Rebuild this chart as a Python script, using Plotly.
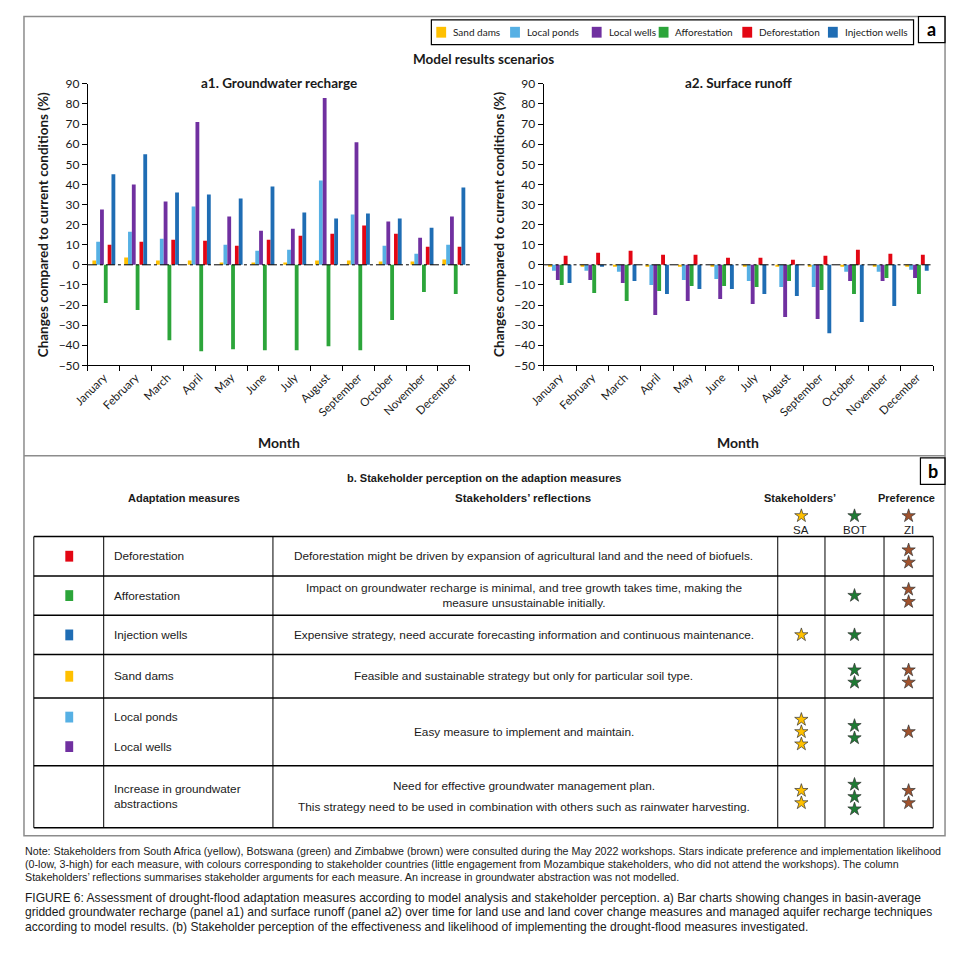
import plotly.graph_objects as go

# page is rendered with the default 8px body margin -> compensate
OFF = 8
W_FIG, H_FIG = 955 - 2 * OFF, 953 - 2 * OFF

# ---------------- data ----------------
months = ["January", "February", "March", "April", "May", "June", "July",
          "August", "September", "October", "November", "December"]
series_names = ["Sand dams", "Local ponds", "Local wells", "Afforestation",
                "Deforestation", "Injection wells"]
series_colors = ["#FFC000", "#56B0E4", "#7030A0", "#2CA53A", "#E30613", "#1F6DB4"]

# a1. Groundwater recharge (% change)
gw_sand_dams = [2.2, 3.6, 2.2, 2.2, 1.2, 1.2, 1.2, 2.2, 2.2, 1.6, 1.6, 2.6]
gw_local_ponds = [11.5, 16.5, 13, 29, 10, 7, 7.5, 42, 25, 9.5, 5.5, 10]
gw_local_wells = [27.5, 40, 31.5, 71, 24, 17, 18, 83, 61, 21.5, 13.5, 24]
gw_afforestation = [-19, -22.5, -37.5, -43, -42, -42.5, -42.5, -40.5, -42.5, -27.5, -13.5, -14.5]
gw_deforestation = [10, 11.5, 12.5, 12, 9.5, 12.5, 14.5, 15.5, 19.5, 15.5, 9, 9]
gw_injection_wells = [45, 55, 36, 35, 33, 39, 26, 23, 25.5, 23, 18.5, 38.5]

# a2. Surface runoff (% change)
sr_sand_dams = [-1, -1, -1, -1, -1, -1, -1, -1, -1, -1, -1, -1]
sr_local_ponds = [-3, -3, -3.5, -10, -7.5, -7, -8, -11, -11, -3.5, -3.5, -2.5]
sr_local_wells = [-7.5, -7.5, -9, -25, -18, -17, -19.5, -26, -27, -8, -8, -6.5]
sr_afforestation = [-10, -14, -18, -13, -10.5, -10.5, -11, -8, -12.5, -14.5, -6.5, -14.5]
sr_deforestation = [4.5, 6, 7, 5, 5, 3.5, 3.5, 2.5, 4.5, 7.5, 5.5, 5]
sr_injection_wells = [-9, -1, -8, -14.5, -12, -12, -14.5, -15.5, -34, -28.5, -20.5, -3]

# b. Stakeholder table
measure_labels = [["Deforestation"], ["Afforestation"], ["Injection wells"], ["Sand dams"],
                  ["Local ponds", "Local wells"], ["Increase in groundwater<br>abstractions"]]
measure_colors = [["#E30613"], ["#2CA53A"], ["#1F6DB4"], ["#FFC000"],
                  ["#56B0E4", "#7030A0"], [None]]
reflections = [
    ["Deforestation might be driven by expansion of agricultural land and the need of biofuels."],
    ["Impact on groundwater recharge is minimal, and tree growth takes time, making the<br>measure unsustainable initially."],
    ["Expensive strategy, need accurate forecasting information and continuous maintenance."],
    ["Feasible and sustainable strategy but only for particular soil type."],
    ["Easy measure to implement and maintain."],
    ["Need for effective groundwater management plan.",
     "This strategy need to be used in combination with others such as rainwater harvesting."],
]
stars_SA = [0, 0, 1, 0, 3, 2]
stars_BOT = [0, 1, 1, 2, 2, 3]
stars_ZI = [2, 2, 0, 2, 1, 2]
stakeholder_codes = ["SA", "BOT", "ZI"]
star_colors = ["#FFC000", "#1E7B34", "#A0522D"]

note_lines = [
    "Note: Stakeholders from South Africa (yellow), Botswana (green) and Zimbabwe (brown) were consulted during the May 2022 workshops. Stars indicate preference and implementation likelihood",
    "(0-low, 3-high) for each measure, with colours corresponding to stakeholder countries (little engagement from Mozambique stakeholders, who did not attend the workshops). The column",
    "Stakeholders\u2019 reflections summarises stakeholder arguments for each measure. An increase in groundwater abstraction was not modelled.",
]
caption_lines = [
    "FIGURE 6: Assessment of drought-flood adaptation measures according to model analysis and stakeholder perception. a) Bar charts showing changes in basin-average",
    "gridded groundwater recharge (panel a1) and surface runoff (panel a2) over time for land use and land cover change measures and managed aquifer recharge techniques",
    "according to model results. (b) Stakeholder perception of the effectiveness and likelihood of implementing the drought-flood measures investigated.",
]

# ---------------- helpers ----------------
def X(p):
    return (p - OFF) / W_FIG

def Y(p):
    return 1 - (p - OFF) / H_FIG

CHART_FONT = "Lato, 'Open Sans', sans-serif"
NARROW = "'Liberation Sans', Arial, sans-serif"
TXT = "#1a1a1a"

fig = go.Figure()

gw = [gw_sand_dams, gw_local_ponds, gw_local_wells, gw_afforestation, gw_deforestation, gw_injection_wells]
sr = [sr_sand_dams, sr_local_ponds, sr_local_wells, sr_afforestation, sr_deforestation, sr_injection_wells]
for name, col, v1, v2 in zip(series_names, series_colors, gw, sr):
    fig.add_trace(go.Bar(x=months, y=v1, name=name, marker_color=col, marker_line_width=0,
                         xaxis="x", yaxis="y", showlegend=False))
    fig.add_trace(go.Bar(x=months, y=v2, name=name, marker_color=col, marker_line_width=0,
                         xaxis="x2", yaxis="y2", showlegend=False))

# stars in the table (overlay axes in page pixels)
star_x = {"SA": 799, "BOT": 853, "ZI": 908}
row_lines = [537, 577, 617, 657, 701, 770, 833]
row_centers = [(a + b) / 2 for a, b in zip(row_lines[:-1], row_lines[1:])]
STEP = 12.5
for code, col, counts in zip(stakeholder_codes, star_colors, [stars_SA, stars_BOT, stars_ZI]):
    xs, ys = [star_x[code]], [516]
    for cy, n in zip(row_centers, counts):
        for k in range(n):
            xs.append(star_x[code])
            ys.append(cy + (k - (n - 1) / 2) * STEP)
    fig.add_trace(go.Scatter(x=xs, y=ys, mode="markers", xaxis="x3", yaxis="y3",
                             marker=dict(symbol="star", size=10, color=col,
                                         line=dict(color="#333333", width=0.7)),
                             showlegend=False, hoverinfo="skip", cliponaxis=False))

axis_common = dict(showline=True, linecolor="black", linewidth=1, ticks="outside",
                   tickcolor="black", ticklen=5, showgrid=False, zeroline=False,
                   tickfont=dict(family=CHART_FONT, size=12, color=TXT))
xcommon = dict(axis_common, tickson="boundaries", tickangle=-45, type="category",
               tickfont=dict(family=CHART_FONT, size=11.5, color=TXT))
ycommon = dict(axis_common, range=[-50, 90], dtick=10, tick0=0,
               domain=[Y(363), Y(77)])

shapes = []
annotations = []

# zero lines
for yr, xr in [("y", "x domain"), ("y2", "x2 domain")]:
    shapes.append(dict(type="line", xref=xr, yref=yr, x0=0, x1=1, y0=0, y1=0,
                       line=dict(color="black", width=1, dash="dashdot"), layer="above"))

def rect(x0, y0, x1, y1, color="black", width=1, fill=None):
    d = dict(type="rect", xref="paper", yref="paper", x0=X(x0), x1=X(x1), y0=Y(y1), y1=Y(y0),
             line=dict(color=color, width=width))
    if fill:
        d["fillcolor"] = fill
        d["line"] = dict(width=0)
    shapes.append(d)

def hline(y, x0, x1, color="black", width=1):
    shapes.append(dict(type="line", xref="paper", yref="paper", x0=X(x0), x1=X(x1),
                       y0=Y(y), y1=Y(y), line=dict(color=color, width=width)))

def vline(x, y0, y1, color="black", width=1):
    shapes.append(dict(type="line", xref="paper", yref="paper", x0=X(x), x1=X(x),
                       y0=Y(y0), y1=Y(y1), line=dict(color=color, width=width)))

def text(x, y, s, size=12, bold=False, family=NARROW, xanchor="center", angle=0, color=TXT, align=None):
    if bold:
        s = "<b>" + s + "</b>"
    a = dict(x=X(x), y=Y(y), xref="paper", yref="paper", text=s, showarrow=False,
             xanchor=xanchor, yanchor="middle", textangle=angle,
             font=dict(family=family, size=size, color=color))
    if align:
        a["align"] = align
    annotations.append(a)

# frame
rect(9, 8.5, 945, 841, color="#8c8c8c", width=1.5)
hline(455, 9, 945, color="#8c8c8c", width=1.5)
rect(918, 8.5, 945, 35, width=1.2)
text(931.5, 21, "a", size=18, bold=True, family=CHART_FONT, color="black")
rect(920, 457, 945, 484, width=1.2)
text(932.5, 470, "b", size=18, bold=True, family=CHART_FONT, color="black")

# legend (manual)
rect(423, 12, 913, 37, width=1.2)
leg_x = [428, 503, 586, 654, 739, 826]
for lx, name, col in zip(leg_x, series_names, series_colors):
    rect(lx, 19, lx + 10, 30, fill=col)
    text(lx + 15, 24.5, name, size=10, family=CHART_FONT, xanchor="left")

# titles
text(476, 52, "Model results scenarios", size=13.5, bold=True, family=CHART_FONT)
text(268, 76, "a1. Groundwater recharge", size=13.5, bold=True, family=CHART_FONT)
text(735, 76, "a2. Surface runoff", size=13.5, bold=True, family=CHART_FONT)
text(28, 220, "Changes compared to current conditions (%)", size=13.5, bold=True,
     family=CHART_FONT, angle=-90)
text(491, 220, "Changes compared to current conditions (%)", size=13.5, bold=True,
     family=CHART_FONT, angle=-90)
text(268, 441, "Month", size=14, bold=True, family=CHART_FONT)
text(735, 441, "Month", size=14, bold=True, family=CHART_FONT)

# table b
text(476, 478, "b. Stakeholder perception on the adaption measures", size=11, bold=True)
text(172, 498, "Adaptation measures", size=11, bold=True)
text(516, 498, "Stakeholders\u2019 reflections", size=11.5, bold=True)
text(798, 498, "Stakeholders\u2019", size=11, bold=True)
text(906, 498, "Preference", size=11, bold=True)
for code in stakeholder_codes:
    text(star_x[code], 530, code, size=11.5)

for y in row_lines:
    hline(y, 19, 933, width=1.5)
for x in [19, 90, 262, 775, 823, 883, 933]:
    vline(x, 537, 833, width=1)

for i, (labels, cols, refl) in enumerate(zip(measure_labels, measure_colors, reflections)):
    cy = row_centers[i]
    n = len(labels)
    for k, (lab, col) in enumerate(zip(labels, cols)):
        ly = cy if n == 1 else cy + (k - (n - 1) / 2) * 30
        if col:
            rect(51, ly - 5.5, 59, ly + 5.5, fill=col)
        text(98, ly, lab, size=11.8, xanchor="left", align="left")
    m = len(refl)
    for k, r in enumerate(refl):
        ry = cy if m == 1 else cy + (k - (m - 1) / 2) * 21
        text(517, ry, r, size=11.8)

# notes & caption
for k, line in enumerate(note_lines):
    text(8, 857 + 13 * k, line, size=10.7, xanchor="left")
for k, line in enumerate(caption_lines):
    text(8, 904.5 + 14.5 * k, line, size=12.05, xanchor="left")

fig.update_layout(
    width=W_FIG, height=H_FIG, margin=dict(l=0, r=0, t=0, b=0),
    paper_bgcolor="white", plot_bgcolor="rgba(0,0,0,0)",
    barmode="group", bargap=0.28, bargroupgap=0,
    showlegend=False,
    xaxis=dict(xcommon, domain=[X(74), X(462)], anchor="y"),
    yaxis=dict(ycommon, anchor="x"),
    xaxis2=dict(xcommon, domain=[X(537), X(933)], anchor="y2"),
    yaxis2=dict(ycommon, anchor="x2"),
    xaxis3=dict(domain=[0, 1], range=[OFF, OFF + W_FIG], visible=False, anchor="y3", fixedrange=True),
    yaxis3=dict(domain=[0, 1], range=[OFF + H_FIG, OFF], visible=False, anchor="x3", fixedrange=True),
    shapes=shapes, annotations=annotations,
    font=dict(family=CHART_FONT, color=TXT),
)

fig.write_html("out.html")
